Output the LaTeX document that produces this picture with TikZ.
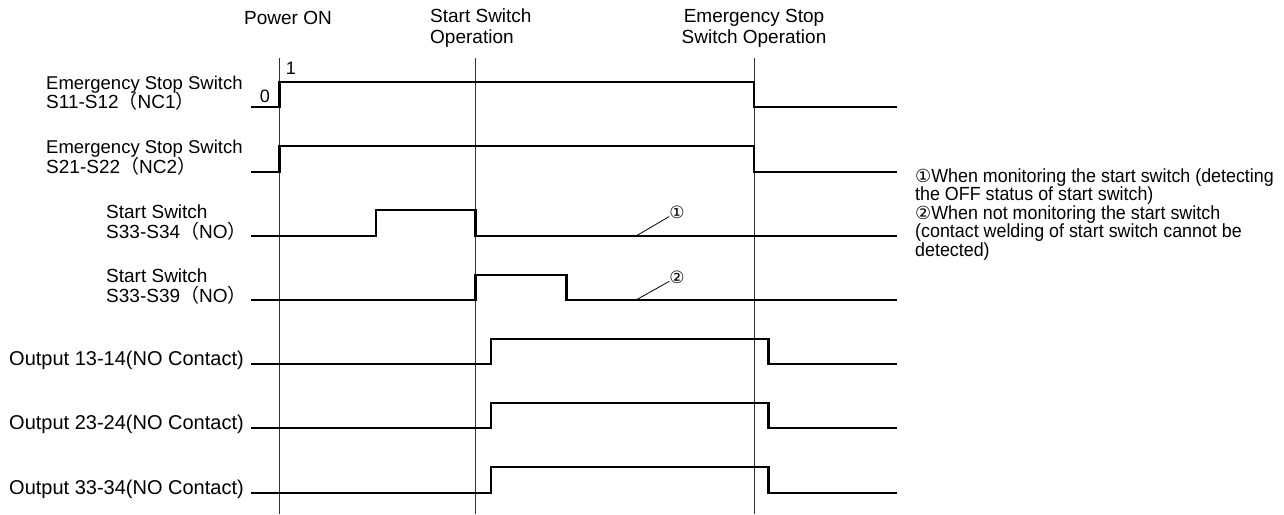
\documentclass[tikz,border=0pt]{standalone}
\usepackage{fontspec}
\setmainfont{Liberation Sans}
\newfontfamily\cjk{Noto Sans CJK JP}
\newfontfamily\symf{DejaVu Sans}
\newfontfamily\notef[FakeStretch=0.94]{Liberation Sans}
\begin{document}
\begin{tikzpicture}[x=1pt,y=-1pt,
  sig/.style={line width=2.4pt, black, line join=miter},
  guide/.style={line width=0.9pt, black!80},
  leader/.style={line width=0.8pt, black},
  lbl/.style={font=\fontsize{19}{19}\selectfont, inner sep=0pt, anchor=base west},
  lblE/.style={lbl, font=\fontsize{18.5}{18.5}\selectfont},
  lblO/.style={lbl, font=\fontsize{20}{20}\selectfont},
  lvl/.style={font=\fontsize{18}{18}\selectfont, inner sep=0pt},
  circ/.style={font=\symf\fontsize{17}{17}\selectfont, inner sep=0pt},
  note/.style={font=\notef\fontsize{19}{19}\selectfont, inner sep=0pt, anchor=base west}]
\useasboundingbox (0,0) rectangle (1284,514);
\fill[white] (0,0) rectangle (1284,514);

% guide lines
\coordinate (g1t) at (279.5,58); \coordinate (g1b) at (279.5,514);
\coordinate (g2t) at (475.3,58); \coordinate (g2b) at (475.3,514);
\coordinate (g3t) at (754,58);   \coordinate (g3b) at (754,514);
\draw[guide] (g1t) -- (g1b);
\draw[guide] (g2t) -- (g2b);
\draw[guide] (g3t) -- (g3b);

% top labels
\node[lbl, anchor=base] (pwr) at (288,24) {Power ON};
\node[lbl] (ssa) at (430,23) {Start Switch};
\node[lbl] (ssb) at (430,43) {Operation};
\node[lbl, anchor=base] (esa) at (754,23) {Emergency Stop};
\node[lbl, anchor=base] (esb) at (754,43) {Switch Operation};

% row labels
\node[lblE] (l1a) at (46,89)  {Emergency Stop Switch};
\node[lbl] (l1b) at (46,108) {S11-S12{\cjk （}NC1{\cjk ）}};
\node[lblE] (l2a) at (46,153) {Emergency Stop Switch};
\node[lbl] (l2b) at (46,173) {S21-S22{\cjk （}NC2{\cjk ）}};
\node[lbl] (l3a) at (106,218) {Start Switch};
\node[lbl] (l3b) at (106,238) {S33-S34{\cjk （}NO{\cjk ）}};
\node[lbl] (l4a) at (106,282) {Start Switch};
\node[lbl] (l4b) at (106,302) {S33-S39{\cjk （}NO{\cjk ）}};
\node[lblO] (o1) at (9,365) {Output 13-14(NO Contact)};
\node[lblO] (o2) at (9,429) {Output 23-24(NO Contact)};
\node[lblO] (o3) at (9,494) {Output 33-34(NO Contact)};

% levels
\node[lvl] (zero) at (265,96) {0};
\node[lvl] (one) at (291,68) {1};

% signals
\draw[sig] (251,107) -- (279.5,107) -- (279.5,82) -- (754,82) -- (754,107) -- (897,107);
\draw[sig] (251,172) -- (279.5,172) -- (279.5,146) -- (754,146) -- (754,172) -- (897,172);
\draw[sig] (251,236) -- (376,236) -- (376,210) -- (475.3,210) -- (475.3,236) -- (897,236);
\draw[sig] (251,300) -- (475.3,300) -- (475.3,275) -- (566.5,275) -- (566.5,300) -- (897,300);
\draw[sig] (251,364) -- (491,364) -- (491,339) -- (768.5,339) -- (768.5,364) -- (897,364);
\draw[sig] (251,428) -- (491,428) -- (491,403) -- (768.5,403) -- (768.5,428) -- (897,428);
\draw[sig] (251,493) -- (491,493) -- (491,467) -- (768.5,467) -- (768.5,493) -- (897,493);

% leaders
\node[circ] (c1) at (677,212) {①};
\node[circ] (c2) at (677,277) {②};
\coordinate (p1) at (636,236);
\coordinate (p2) at (636,300);
\draw[leader] (p1) -- (c1);
\draw[leader] (p2) -- (c2);

% note
\node[note] (n1) at (915,182)   {{\symf\fontsize{18}{18}\selectfont ①}When monitoring the start switch (detecting};
\node[note] (n2) at (915,200.5) {the OFF status of start switch)};
\node[note] (n3) at (915,219)   {{\symf\fontsize{18}{18}\selectfont ②}When not monitoring the start switch};
\node[note] (n4) at (915,237.5) {(contact welding of start switch cannot be};
\node[note] (n5) at (915,256)   {detected)};
\end{tikzpicture}
\end{document}
